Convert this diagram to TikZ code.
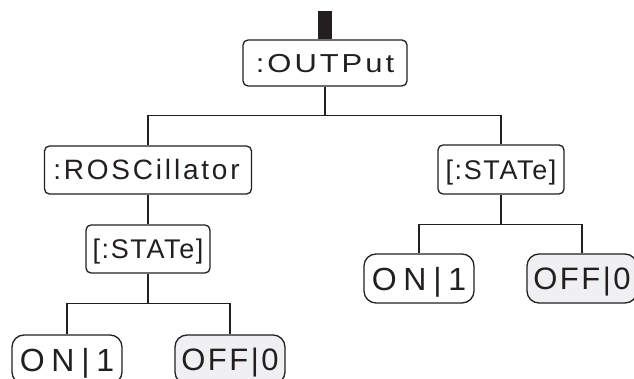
\documentclass[tikz,border=0pt]{standalone}
\usepackage{fontspec}
\setmainfont{Liberation Sans}
\usetikzlibrary{calc}
\definecolor{ink}{RGB}{35,31,32}
\definecolor{offfill}{RGB}{240,240,242}
\tikzset{
  box/.style={draw=ink, line width=1.3pt, rounded corners=5pt, inner sep=0pt,
    text=ink, font=\fontsize{27}{32}\selectfont, text height=19.5pt, text depth=0pt,
    minimum height=48pt},
  pill/.style={box, rounded corners=12pt, minimum width=110pt, minimum height=49pt,
    font=\fontsize{32}{38}\selectfont, text height=23pt},
  offpill/.style={pill, font=\fontsize{31}{37}\selectfont, text height=22pt, fill=offfill},
  conn/.style={draw=ink, line width=1.3pt},
}
\begin{document}
\begin{tikzpicture}[x=1pt,y=-1pt]
\useasboundingbox (0,0) rectangle (634,379);
\clip (0,0) rectangle (634,379);
\fill[white] (0,0) rectangle (634,379);
\node[box, minimum width=164pt, minimum height=46pt, font=\fontsize{26}{31}\selectfont, text height=18.7pt] (out) at (325,63)
  {\addfontfeature{FakeStretch=1.19,LetterSpace=11.5}:OUTPut};
\node[fill=ink, inner sep=0pt, minimum width=14pt, minimum height=28pt, anchor=south] (bar) at (out.north) {};
\node[box, minimum width=207pt, font=\fontsize{28}{33}\selectfont, text height=20pt] (ros) at (148,170)
  {\addfontfeature{LetterSpace=10}\hspace{-3pt}:ROSCillator};
\node[box, minimum width=124pt] (stL) at (148,249)
  {\addfontfeature{LetterSpace=6}[:STATe]};
\node[box, minimum width=126pt, minimum height=49pt] (stR) at (501,169.5)
  {\addfontfeature{LetterSpace=6}[:STATe]};
\node[pill] (on1) at (67,359.5) {\addfontfeature{LetterSpace=21}ON|1};
\node[offpill] (off1) at (230,359.5) {\addfontfeature{LetterSpace=8}OFF|0};
\node[pill] (on2) at (419,278.5) {\addfontfeature{LetterSpace=21}ON|1};
\node[offpill] (off2) at (582,278.5) {\addfontfeature{LetterSpace=8}OFF|0};
% connectors
\path (out.south) ++(0,29) coordinate (j1);
\draw[conn] (out.south) -- (j1);
\draw[conn] (ros.north) |- (j1) -| (stR.north);
\draw[conn] (ros.south) -- (stL.north);
\path (stL.south) ++(0,30) coordinate (j2);
\draw[conn] (stL.south) -- (j2);
\draw[conn] (on1.north) |- (j2) -| (off1.north);
\path (stR.south) ++(0,30) coordinate (j3);
\draw[conn] (stR.south) -- (j3);
\draw[conn] (on2.north) |- (j3) -| (off2.north);
\end{tikzpicture}
\end{document}
